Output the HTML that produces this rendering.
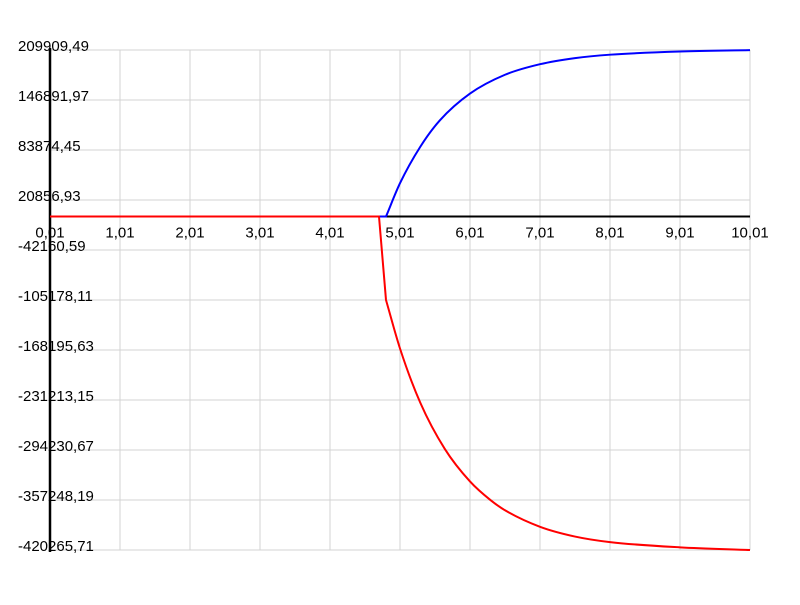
<!DOCTYPE html>
<html><head><meta charset="utf-8"><style>
html,body{margin:0;padding:0;background:#fff;}
svg text{font-family:"Liberation Sans",sans-serif;font-size:15px;fill:#000;}
</style></head><body>
<svg id="chart" width="800" height="600" xmlns="http://www.w3.org/2000/svg"></svg>
<script>
const xTicks=[0.01,1.01,2.01,3.01,4.01,5.01,6.01,7.01,8.01,9.01,10.01];
const xTickLabels=["0,01","1,01","2,01","3,01","4,01","5,01","6,01","7,01","8,01","9,01","10,01"];
const yTicks=[209909.49,146891.97,83874.45,20856.93,-42160.59,-105178.11,-168195.63,-231213.15,-294230.67,-357248.19,-420265.71];
const yTickLabels=["209909,49","146891,97","83874,45","20856,93","-42160,59","-105178,11","-168195,63","-231213,15","-294230,67","-357248,19","-420265,71"];
const blueX=[0.01,4.81,5.01,5.30,5.58,6.01,6.51,7.01,7.51,8.01,9.01,10.01];
const blueY=[0,0,42000,88000,121300,155000,178700,192000,199700,204000,208000,209700];
const redX=[0.01,4.71,4.81,5.01,5.30,5.65,6.01,6.30,6.51,7.01,7.51,8.01,9.01,10.01];
const redY=[0,0,-105178,-166300,-234700,-292900,-333900,-357200,-370200,-391000,-403300,-410300,-416900,-420266];
const blueSmoothFrom=1;
const redSmoothFrom=2;

const NS="http://www.w3.org/2000/svg";
const svg=document.getElementById('chart');
const X0=50,X1=750,Y0=50,Y1=550;
const xmin=0.01,xmax=10.01,ymax=209909.49,ymin=-420265.71;
function sx(v){return X0+(v-xmin)/(xmax-xmin)*(X1-X0);}
function sy(v){return Y0+(ymax-v)/(ymax-ymin)*(Y1-Y0);}
function mk(tag,attrs){const e=document.createElementNS(NS,tag);for(const k in attrs)e.setAttribute(k,attrs[k]);svg.appendChild(e);return e;}

yTicks.forEach((v,i)=>{
  const l=mk('line',{x1:X0,x2:X1,y1:sy(v),y2:sy(v),stroke:'#d3d3d3','stroke-width':1});
  
  
});
xTicks.forEach((v,i)=>{
  const l=mk('line',{x1:sx(v),x2:sx(v),y1:Y0,y2:Y1,stroke:'#d3d3d3','stroke-width':1});
  
  
});
const ya=mk('line',{x1:X0,x2:X0,y1:Y0-2,y2:Y1+2,stroke:'#000','stroke-width':2.5});


const xa=mk('line',{x1:X0,x2:X1,y1:sy(0),y2:sy(0),stroke:'#000','stroke-width':2});



yTicks.forEach((v,i)=>{
  const t=mk('text',{x:18,y:sy(v)+1});
  t.textContent=yTickLabels[i];
  
  
});
xTicks.forEach((v,i)=>{
  const t=mk('text',{x:sx(v),y:sy(0)+21,'text-anchor':'middle'});
  t.textContent=xTickLabels[i];
  
  
});

function monotone(px,py){
  const n=px.length;const d=[],m=[];
  for(let i=0;i<n-1;i++)d.push((py[i+1]-py[i])/(px[i+1]-px[i]));
  m[0]=d[0];m[n-1]=d[n-2];
  for(let i=1;i<n-1;i++){m[i]=(d[i-1]*d[i]<=0)?0:(d[i-1]+d[i])/2;}
  for(let i=0;i<n-1;i++){
    if(d[i]===0){m[i]=0;m[i+1]=0;continue;}
    const a=m[i]/d[i],b=m[i+1]/d[i],s=a*a+b*b;
    if(s>9){const t=3/Math.sqrt(s);m[i]=t*a*d[i];m[i+1]=t*b*d[i];}
  }
  let s='';
  for(let i=0;i<n-1;i++){
    const h=(px[i+1]-px[i])/3;
    s+=' C'+(px[i]+h).toFixed(2)+','+(py[i]+m[i]*h).toFixed(2)+' '+(px[i+1]-h).toFixed(2)+','+(py[i+1]-m[i+1]*h).toFixed(2)+' '+px[i+1].toFixed(2)+','+py[i+1].toFixed(2);
  }
  return s;
}
function path(xs,ys,from,color,name){
  const px=xs.map(sx),py=ys.map(sy);
  let d='M'+px[0].toFixed(2)+','+py[0].toFixed(2);
  for(let i=1;i<=from;i++)d+=' L'+px[i].toFixed(2)+','+py[i].toFixed(2);
  d+=monotone(px.slice(from),py.slice(from));
  const p=mk('path',{d:d,fill:'none',stroke:color,'stroke-width':2,'stroke-linejoin':'round'});
  
  
}
path(blueX,blueY,blueSmoothFrom,'#0000ff','blue-series-line');
path(redX,redY,redSmoothFrom,'#ff0000','red-series-line');
</script>
</body></html>
